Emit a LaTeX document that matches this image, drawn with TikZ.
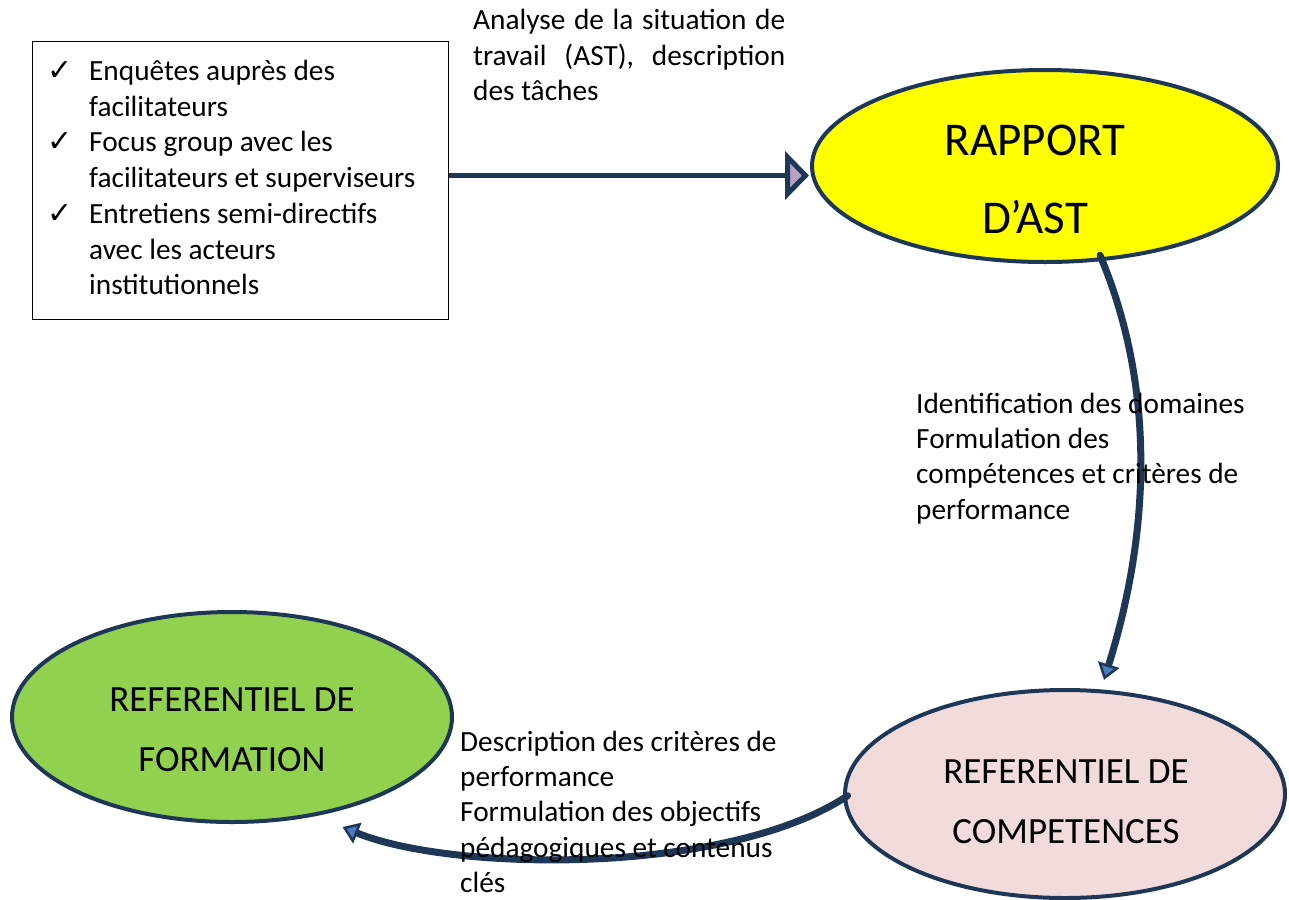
\documentclass[tikz,border=0pt]{standalone}
\usepackage{fontspec}
\setmainfont{Carlito}
\newfontfamily\symfont{DejaVu Sans}
\usetikzlibrary{shapes.geometric,arrows.meta}
\definecolor{navy}{HTML}{1F3757}
\definecolor{yel}{HTML}{FFFF00}
\definecolor{grn}{HTML}{92D050}
\definecolor{pnk}{HTML}{F2DCDB}
\definecolor{lav}{HTML}{B3A2C7}
\definecolor{blueA}{HTML}{4A7CC0}
\newcommand{\chk}{\makebox[42pt][l]{\symfont\fontsize{30}{30}\selectfont ✓}}
\newcommand{\ind}{\hspace*{42pt}}
\begin{document}
\begin{tikzpicture}[x=1pt,y=-1pt,
  oval/.style={ellipse, draw=navy, line width=4pt, inner sep=0pt},
  body/.style={font=\fontsize{29.3}{35.2}\selectfont, inner sep=0pt, anchor=north west, align=left},
  big/.style={font=\fontsize{37}{60}\selectfont, align=center, inner sep=0pt},
  curvy/.style={draw=navy, line width=7pt, line cap=round,
    -{Triangle[length=16pt,width=22pt,fill=blueA,line width=2.5pt]}},
  straight/.style={draw=navy, line width=5pt, -{Triangle[length=24pt,width=48pt,fill=lav,line width=5pt]}}]
\useasboundingbox (0,0) rectangle (1289,899);
\fill[white] (0,0) rectangle (1289,899);

% ellipses
\node[oval, fill=yel, minimum width=466pt, minimum height=192pt] (rap) at (1045,166) {};
\node[oval, fill=grn, minimum width=440pt, minimum height=210pt] (form) at (232,717) {};
\node[oval, fill=pnk, minimum width=440pt, minimum height=208pt] (comp) at (1065,794) {};

% source box
\node[draw=black, line width=1pt, minimum width=416pt, minimum height=278pt, anchor=north west, inner sep=0pt] (src) at (32,41) {};
\node[body, font=\fontsize{29.3}{35.7}\selectfont] (srctxt) at (47,60) {\chk Enquêtes auprès des\\
\ind facilitateurs\\
\chk Focus group avec les\\
\ind facilitateurs et superviseurs\\
\chk Entretiens semi-directifs\\
\ind avec les acteurs\\
\ind institutionnels};

% connectors
\coordinate (s1) at ([yshift=5pt]src.east);
\draw[straight, shorten >=1pt] (s1) -- (s1 -| rap.west);
\draw[curvy, shorten >=10pt] ([yshift=6pt]rap.-60) .. controls +(55,130) and +(50,-160) .. (comp.71);
\draw[curvy] ([xshift=4pt,yshift=6pt]comp.182) .. controls +(-120,80) and +(110,45) .. ([xshift=-6pt,yshift=-19pt]form.-38);

% ellipse texts
\node[font=\fontsize{47}{78}\selectfont, align=center, inner sep=0pt] (raptxt) at (1035,179) {RAPPORT\\D’AST};
\node[big] (formtxt) at (232,730) {REFERENTIEL DE\\FORMATION};
\node[big] (comptxt) at (1066,802) {REFERENTIEL DE\\COMPETENCES};

% labels
\node[body, font=\fontsize{29.3}{35.7}\selectfont] (lab1) at (473,9) {\makebox[312pt][s]{Analyse de la situation de}\\
\makebox[312pt][s]{travail (AST), description}\\
des tâches};
\node[body] (lab2) at (916,393) {Identification des domaines\\
Formulation des\\
compétences et critères de\\
performance};
\node[body] (lab3) at (460,731) {Description des critères de\\
performance\\
Formulation des objectifs\\
pédagogiques et contenus\\
clés};
\end{tikzpicture}
\end{document}
